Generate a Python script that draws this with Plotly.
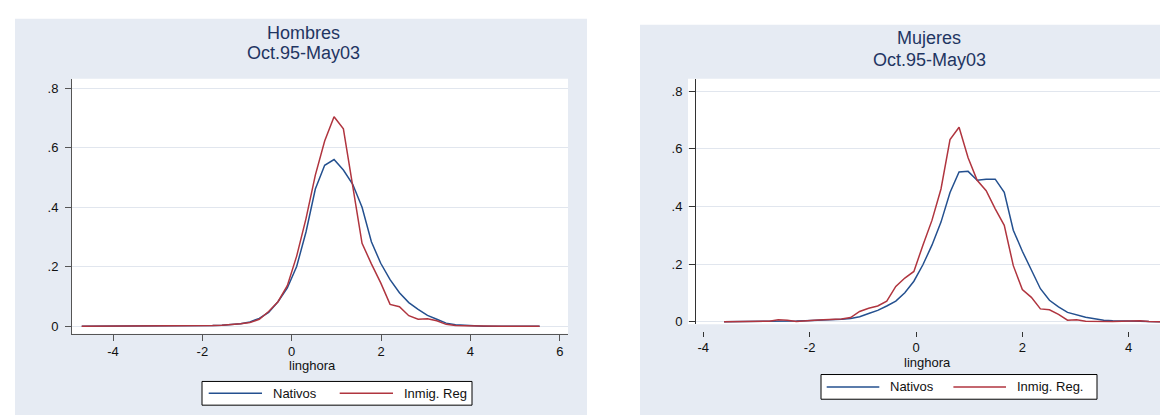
import plotly.graph_objects as go

W, H = 1168, 415

# ---------------- data ----------------
x_hombres = [-4.700, -4.491, -4.282, -4.072, -3.863, -3.654, -3.445, -3.236, -3.026, -2.817,
             -2.608, -2.399, -2.190, -1.981, -1.771, -1.562, -1.353, -1.144, -0.935, -0.726,
             -0.516, -0.307, -0.098, 0.111, 0.320, 0.529, 0.738, 0.948, 1.157, 1.366,
             1.575, 1.784, 1.993, 2.202, 2.412, 2.621, 2.830, 3.039, 3.248, 3.457,
             3.667, 3.876, 4.085, 4.294, 4.503, 4.712, 4.921, 5.131, 5.340, 5.549]
nativos_hombres = [0.0005, 0.0005, 0.0005, 0.0005, 0.0005, 0.0005, 0.0005, 0.0005, 0.0005, 0.0005,
                   0.0007, 0.0008, 0.001, 0.002, 0.003, 0.004, 0.006, 0.009, 0.015, 0.027,
                   0.047, 0.083, 0.129, 0.201, 0.317, 0.461, 0.541, 0.560, 0.525, 0.477,
                   0.400, 0.284, 0.212, 0.157, 0.113, 0.080, 0.057, 0.037, 0.024, 0.011,
                   0.006, 0.004, 0.002, 0.001, 0.0008, 0.0006, 0.0005, 0.0005, 0.0005, 0.0005]
inmig_hombres = [0.0005, 0.0005, 0.0005, 0.0005, 0.0005, 0.0005, 0.0005, 0.0005, 0.0005, 0.0005,
                 0.0007, 0.0008, 0.001, 0.002, 0.003, 0.004, 0.006, 0.009, 0.013, 0.024,
                 0.050, 0.083, 0.137, 0.236, 0.362, 0.508, 0.622, 0.704, 0.663, 0.470,
                 0.279, 0.210, 0.146, 0.074, 0.066, 0.036, 0.024, 0.026, 0.019, 0.007,
                 0.003, 0.002, 0.001, 0.0008, 0.0006, 0.0005, 0.0005, 0.0005, 0.0005, 0.0005]

x_mujeres = [-3.61, -3.44, -3.27, -3.10, -2.93, -2.76, -2.59, -2.42, -2.25, -2.08,
             -1.91, -1.74, -1.57, -1.40, -1.23, -1.06, -0.89, -0.72, -0.55, -0.38,
             -0.21, -0.04, 0.13, 0.30, 0.47, 0.64, 0.81, 0.98, 1.15, 1.32,
             1.49, 1.66, 1.83, 2.00, 2.17, 2.34, 2.51, 2.68, 2.85, 3.02,
             3.19, 3.36, 3.53, 3.70, 3.87, 4.04, 4.21, 4.38, 4.55, 4.72]
nativos_mujeres = [0.0005, 0.0005, 0.0005, 0.0005, 0.0007, 0.001, 0.002, 0.002, 0.003, 0.004,
                   0.005, 0.006, 0.007, 0.009, 0.012, 0.018, 0.029, 0.040, 0.055, 0.072,
                   0.101, 0.141, 0.198, 0.266, 0.346, 0.449, 0.520, 0.522, 0.491, 0.495,
                   0.495, 0.449, 0.318, 0.245, 0.180, 0.115, 0.075, 0.052, 0.033, 0.024,
                   0.016, 0.011, 0.006, 0.004, 0.004, 0.003, 0.002, 0.001, 0.001, 0.0005]
inmig_mujeres = [0.0005, 0.0005, 0.0005, 0.0008, 0.001, 0.002, 0.007, 0.006, 0.001, 0.004,
                 0.006, 0.007, 0.009, 0.010, 0.015, 0.036, 0.047, 0.055, 0.072, 0.123,
                 0.152, 0.175, 0.266, 0.352, 0.461, 0.632, 0.675, 0.569, 0.491, 0.455,
                 0.392, 0.335, 0.195, 0.112, 0.085, 0.045, 0.042, 0.026, 0.006, 0.007,
                 0.002, 0.001, 0.001, 0.001, 0.002, 0.004, 0.004, 0.001, 0.0005, 0.0005]

x_ticks_h = [-4, -2, 0, 2, 4, 6]
x_ticks_m = [-4, -2, 0, 2, 4]
y_ticks = [0, 0.2, 0.4, 0.6, 0.8]
y_ticktext = ["0", ".2", ".4", ".6", ".8"]
series_names = ["Nativos", "Inmig. Reg"]
series_names_m = ["Nativos", "Inmig. Reg."]
titles = [("Hombres", "Oct.95-May03"), ("Mujeres", "Oct.95-May03")]
x_title = "linghora"

# ---------------- style ----------------
BLUE = "#24508F"
RED = "#B0353F"
PANEL = "#E6EBF3"
GRID = "#E1E6EE"
AXIS = "#555555"
TITLE_C = "#1F3562"
FONT = "Arial, Liberation Sans, sans-serif"


def px(x):
    return x / W


def py(y):
    return 1 - y / H


fig = go.Figure()

fig.add_trace(go.Scatter(x=x_hombres, y=nativos_hombres, mode="lines", name=series_names[0],
                         line=dict(color=BLUE, width=1.5), xaxis="x", yaxis="y", showlegend=False))
fig.add_trace(go.Scatter(x=x_hombres, y=inmig_hombres, mode="lines", name=series_names[1],
                         line=dict(color=RED, width=1.5), xaxis="x", yaxis="y", showlegend=False))
fig.add_trace(go.Scatter(x=x_mujeres, y=nativos_mujeres, mode="lines", name=series_names_m[0],
                         line=dict(color=BLUE, width=1.5), xaxis="x2", yaxis="y2", showlegend=False))
fig.add_trace(go.Scatter(x=x_mujeres, y=inmig_mujeres, mode="lines", name=series_names_m[1],
                         line=dict(color=RED, width=1.5), xaxis="x2", yaxis="y2", showlegend=False))

tickfont = dict(family=FONT, size=13, color="#111111")

fig.update_layout(
    width=W, height=H,
    margin=dict(l=0, r=0, t=0, b=0),
    paper_bgcolor="white", plot_bgcolor="white",
    font=dict(family=FONT, size=13, color="#111111"),
    xaxis=dict(domain=[px(64), px(560)], range=[-4.918, 6.185], anchor="y",
               tickmode="array", tickvals=x_ticks_h, ticktext=[str(v) for v in x_ticks_h],
               showline=True, linecolor=AXIS, linewidth=1, ticks="outside", ticklen=6,
               tickcolor=AXIS, showgrid=False, zeroline=False, tickfont=tickfont),
    yaxis=dict(domain=[py(329.7), py(71.7)], range=[-0.0245, 0.831], anchor="x",
               tickmode="array", tickvals=y_ticks, ticktext=y_ticktext,
               showline=True, linecolor=AXIS, linewidth=1, ticks="outside", ticklen=6,
               tickcolor=AXIS, showgrid=True, gridcolor=GRID, zeroline=False,
               tickfont=tickfont, ticklabelstandoff=4),
    xaxis2=dict(domain=[px(680), 1.0], range=[-4.288, 4.89], anchor="free",
                position=py(326.7),
                tickmode="array", tickvals=x_ticks_m, ticktext=[str(v) for v in x_ticks_m],
                showline=False, ticks="outside", ticklen=5, tickcolor="#333333",
                showgrid=False, zeroline=False, tickfont=tickfont),
    yaxis2=dict(domain=[py(320), py(71.7)], range=[-0.0079, 0.843], anchor="free",
                position=px(687),
                tickmode="array", tickvals=y_ticks, ticktext=y_ticktext,
                showline=True, linecolor="#333333", linewidth=1, ticks="outside", ticklen=6,
                tickcolor="#333333", showgrid=True, gridcolor=GRID, zeroline=False,
                tickfont=tickfont, ticklabelstandoff=4),
)

shapes = [
    # panel backgrounds
    dict(type="rect", xref="paper", yref="paper", x0=px(7), x1=px(579), y0=py(413), y1=py(11),
         fillcolor=PANEL, line=dict(width=0), layer="below"),
    dict(type="rect", xref="paper", yref="paper", x0=px(632), x1=1.0, y0=0, y1=py(17),
         fillcolor=PANEL, line=dict(width=0), layer="below"),
    # white plot regions
    dict(type="rect", xref="x domain", yref="y domain", x0=0, x1=1, y0=0, y1=1,
         fillcolor="white", line=dict(width=0), layer="below"),
    dict(type="rect", xref="x2 domain", yref="y2 domain", x0=0, x1=1, y0=0, y1=1,
         fillcolor="white", line=dict(width=0), layer="below"),
]

annotations = []
# titles
for (t1, t2), cx, y1, y2 in [(titles[0], 295, 25, 45.7), (titles[1], 921, 30.7, 52.3)]:
    annotations.append(dict(text=t1, x=px(cx), y=py(y1), xref="paper", yref="paper",
                            showarrow=False, xanchor="center", yanchor="middle",
                            font=dict(family=FONT, size=18, color=TITLE_C)))
    annotations.append(dict(text=t2, x=px(cx), y=py(y2), xref="paper", yref="paper",
                            showarrow=False, xanchor="center", yanchor="middle",
                            font=dict(family=FONT, size=18, color=TITLE_C)))
# x-axis titles
for cx, cy in [(304, 361.5), (919.5, 358.5)]:
    annotations.append(dict(text=x_title, x=px(cx), y=py(cy), xref="paper", yref="paper",
                            showarrow=False, xanchor="center", yanchor="middle",
                            font=dict(family=FONT, size=13, color="#111111")))

# legends (box, sample lines, labels)
legend_specs = [
    dict(box=(194, 464, 378, 402), cy=390, lines=[(200.7, 254, 263.3), (331.7, 385, 394.3)],
         names=series_names),
    dict(box=(813, 1089, 371, 396), cy=383.5, lines=[(818.7, 871.3, 879.5), (945.4, 998, 1006.5)],
         names=series_names_m),
]
for spec in legend_specs:
    bx0, bx1, by0, by1 = spec["box"]
    shapes.append(dict(type="rect", xref="paper", yref="paper", x0=px(bx0), x1=px(bx1),
                       y0=py(by1), y1=py(by0), fillcolor="white",
                       line=dict(color="black", width=1), layer="above"))
    for (lx0, lx1, tx), name, col in zip(spec["lines"], spec["names"], [BLUE, RED]):
        shapes.append(dict(type="line", xref="paper", yref="paper", x0=px(lx0), x1=px(lx1),
                           y0=py(spec["cy"]), y1=py(spec["cy"]),
                           line=dict(color=col, width=1.5), layer="above"))
        annotations.append(dict(text=name, x=px(tx), y=py(spec["cy"]), xref="paper", yref="paper",
                                showarrow=False, xanchor="left", yanchor="middle",
                                font=dict(family=FONT, size=13, color="#111111")))

fig.update_layout(shapes=shapes, annotations=annotations)

fig.write_html("out.html")
